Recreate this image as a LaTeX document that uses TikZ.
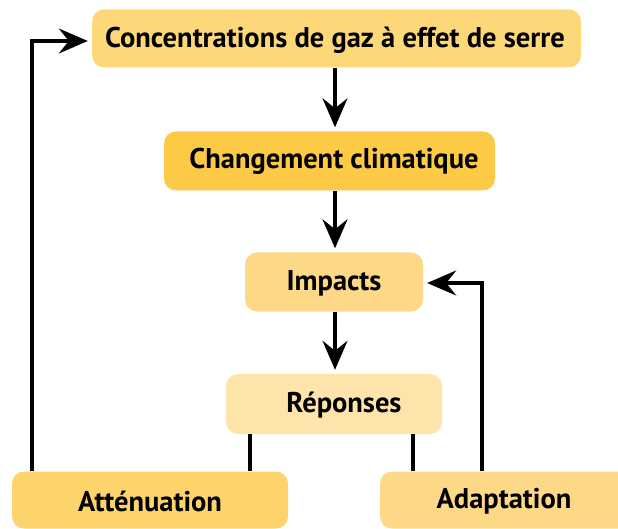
\documentclass[tikz,border=0pt]{standalone}
\usepackage{fontspec}
\setmainfont{PT Sans}
\usetikzlibrary{arrows.meta}
\definecolor{cgas}{HTML}{FDD878}
\definecolor{cchg}{HTML}{FDCA45}
\definecolor{cimp}{HTML}{FDD886}
\definecolor{crep}{HTML}{FEE4AA}
\definecolor{catt}{HTML}{FDD46C}
\definecolor{cada}{HTML}{FDD886}
\tikzset{
  box/.style={rounded corners=12pt, inner sep=0pt, font=\fontsize{28.5}{32}\selectfont\bfseries, text=black},
  arr/.style={line width=3.2pt, -{Stealth[length=29pt,width=25pt,inset=10pt]}, shorten >=4pt},
  link/.style={line width=3.2pt}
}
\begin{document}
\begin{tikzpicture}[x=1pt,y=-1pt]
\useasboundingbox (0,0) rectangle (618,529);
\clip (0,0) rectangle (618,529);
\node[box, fill=cgas, minimum width=489pt, minimum height=58pt] (gas) at (336.5,38.5) {};
\node[box] (gast) at (335,40) {Concentrations de gaz à effet de serre};
\node[box, fill=cchg, minimum width=331pt, minimum height=59pt] (chg) at (329.5,161) {};
\node[box] (chgt) at (334,161) {Changement climatique};
\node[box, fill=cimp, minimum width=178pt, minimum height=59pt] (imp) at (334,282) {};
\node[box] (impt) at (334,283) {Impacts};
\node[box, fill=crep, minimum width=216pt, minimum height=60pt] (rep) at (334,404) {};
\node[box] (rept) at (344,405) {Réponses};
\node[box, fill=catt, minimum width=276pt, minimum height=57pt] (att) at (150,500) {};
\node[box] (attt) at (150,501) {Atténuation};
\node[box, fill=cada, minimum width=250pt, minimum height=57pt] (ada) at (505,500) {};
\node[box] (adat) at (504,501) {Adaptation};
% arrows
\coordinate (vx) at (335,0);
\draw[arr] (gas.south -| vx) -- (chg.north -| vx);
\draw[arr] (chg.south -| vx) -- (imp.north -| vx);
\draw[arr] (imp.south -| vx) -- (rep.north -| vx);
\coordinate (l1) at (32,41);
\coordinate (r1) at (482,283);
\draw[arr] (att.north -| l1) -- (l1) -- (gas.west |- l1);
\draw[arr] (ada.north -| r1) -- (r1) -- (imp.east |- r1);
\draw[link] (rep.south -| 250,0) -- (att.north -| 250,0);
\draw[link] (rep.south -| 413,0) -- (ada.north -| 413,0);
\end{tikzpicture}
\end{document}
